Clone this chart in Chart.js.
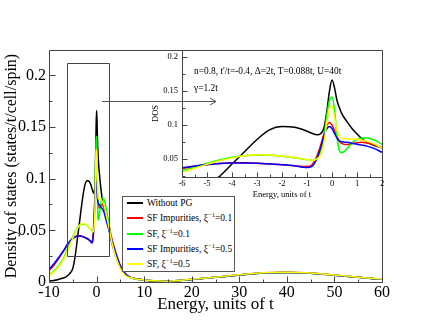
<!DOCTYPE html>
<html>
<head>
<meta charset="utf-8">
<script src="https://cdn.jsdelivr.net/npm/chart.js@4.4.1/dist/chart.umd.min.js"></script>
<style>
  body { margin: 0; background: #fff; font-family: 'Liberation Serif', serif; }
  #wrap { position: relative; width: 430px; height: 332px; overflow: hidden; }
  #main { position: absolute; left: 0; top: 0; }
  #inset { position: absolute; left: 140px; top: 40px; }
  .note { position: absolute; font-size: 9.4px; white-space: nowrap; line-height: 1; color: #000; }
  #legend { position: absolute; left: 122px; top: 196px; width: 111px; height: 74px; border: 1px solid #555; background: #fff; }
  .row { position: absolute; left: 0; height: 12px; font-size: 9.5px; white-space: nowrap; }
  .row i { position: absolute; left: 4px; top: 5px; width: 16px; height: 2px; }
  .row span { position: absolute; left: 24px; top: 0; line-height: 12px; }
  .row sup { font-size: 6.5px; line-height: 0; }
</style>
</head>
<body>
<div id="wrap">
  <canvas id="main" width="430" height="332"></canvas>
  <canvas id="inset" width="250" height="170"></canvas>
  <div class="note" style="left:194px;top:67px">n=0.8, t'/t=-0.4, Δ=2t, T=0.088t, U=40t</div>
  <div class="note" style="left:194px;top:84px">γ=1.2t</div>
  <div id="legend"></div>
</div>
<script>
// energia (unidades de t)
const energy = [-10, -9, -8, -7, -6.5, -6, -5.5, -5, -4.5, -4, -3.5, -3, -2.5, -2, -1.5,
  -1.2, -1, -0.8, -0.6, -0.45, -0.3, -0.2, -0.1, 0, 0.1, 0.2, 0.3, 0.4, 0.6, 0.8, 1, 1.2, 1.4, 1.7, 2,
  2.5, 3, 3.5, 4, 5, 6, 7, 8, 10, 12, 15, 20, 25, 30, 35, 40, 45, 50, 55, 60]

const dosWithoutPG = [0.001, 0.0015, 0.0025, 0.0038, 0.0048, 0.0065, 0.009, 0.013, 0.025, 0.043, 0.061, 0.079, 0.093, 0.098, 0.097,
  0.094, 0.091, 0.088, 0.086, 0.0875, 0.099, 0.122, 0.150, 0.166, 0.155, 0.136, 0.125, 0.116, 0.105, 0.095, 0.087, 0.080, 0.075, 0.070, 0.066,
  0.054, 0.042, 0.033, 0.026, 0.014, 0.007, 0.0045, 0.0032, 0.0018, 0.001, 0.0008, 0.0025, 0.0045, 0.0068, 0.0088, 0.0093, 0.0085, 0.0066, 0.0045, 0.0026]

const dosSFImp01 = [0.011, 0.016, 0.0225, 0.0295, 0.033, 0.0365, 0.0395, 0.042, 0.0438, 0.0447, 0.0447, 0.0441, 0.043, 0.0418, 0.0405,
  0.0395, 0.0392, 0.042, 0.055, 0.071, 0.090, 0.100, 0.104, 0.100, 0.092, 0.083, 0.076, 0.073, 0.0715, 0.0728, 0.0742, 0.0748, 0.0738, 0.071, 0.067,
  0.058, 0.046, 0.037, 0.029, 0.016, 0.0085, 0.0048, 0.0034, 0.002, 0.0012, 0.0009, 0.0026, 0.0046, 0.0069, 0.0089, 0.0094, 0.0086, 0.0067, 0.0046, 0.0027]

const dosSF01 = [0.0068, 0.0105, 0.0155, 0.0225, 0.0275, 0.033, 0.0385, 0.0438, 0.0488, 0.0528, 0.0553, 0.0562, 0.0558, 0.0545, 0.0523,
  0.0505, 0.0493, 0.0482, 0.0515, 0.061, 0.088, 0.116, 0.136, 0.141, 0.122, 0.083, 0.062, 0.0598, 0.0655, 0.0735, 0.079, 0.0812, 0.0812, 0.078, 0.0718,
  0.058, 0.044, 0.034, 0.0255, 0.0135, 0.007, 0.0044, 0.0032, 0.0019, 0.0011, 0.0008, 0.0025, 0.0045, 0.0068, 0.0088, 0.0093, 0.0085, 0.0066, 0.0045, 0.0026]

const dosSFImp05 = [0.0125, 0.0175, 0.0235, 0.030, 0.0338, 0.0375, 0.0402, 0.0422, 0.0437, 0.0445, 0.0446, 0.0441, 0.0432, 0.0421, 0.0405,
  0.0386, 0.0378, 0.0395, 0.051, 0.067, 0.087, 0.095, 0.098, 0.095, 0.088, 0.081, 0.077, 0.0755, 0.0748, 0.0735, 0.072, 0.0707, 0.0692, 0.0655, 0.060,
  0.052, 0.043, 0.035, 0.028, 0.0155, 0.008, 0.0046, 0.0033, 0.002, 0.0012, 0.0009, 0.0025, 0.0045, 0.0068, 0.0088, 0.0093, 0.0085, 0.0066, 0.0045, 0.0026]

const dosSF05 = [0.0062, 0.0098, 0.0145, 0.0212, 0.026, 0.031, 0.0368, 0.0425, 0.0478, 0.052, 0.0552, 0.0566, 0.0563, 0.0548, 0.0527,
  0.0508, 0.0495, 0.0483, 0.0505, 0.057, 0.079, 0.106, 0.125, 0.128, 0.112, 0.092, 0.083, 0.0805, 0.080, 0.0797, 0.0792, 0.0778, 0.0762, 0.0722, 0.066,
  0.055, 0.043, 0.033, 0.025, 0.013, 0.0065, 0.0043, 0.0031, 0.0019, 0.0011, 0.0008, 0.0026, 0.0047, 0.007, 0.009, 0.0095, 0.0087, 0.0068, 0.0047, 0.0028]

const seriesNames = ['Without PG', 'SF Impurities, ξ<sup>−1</sup>=0.1', 'SF, ξ<sup>−1</sup>=0.1', 'SF Impurities, ξ<sup>−1</sup>=0.5', 'SF, ξ<sup>−1</sup>=0.5']
const seriesColors = ['#000000', '#ff0000', '#00ff00', '#0000ff', '#ffff00']
const seriesData = [dosWithoutPG, dosSFImp01, dosSF01, dosSFImp05, dosSF05]

const mainXTicks = [-10, 0, 10, 20, 30, 40, 50, 60]
const mainYTicks = [0, 0.05, 0.1, 0.15, 0.2]
const insetXTicks = [-6, -5, -4, -3, -2, -1, 0, 1, 2]
const insetYTicks = [0.05, 0.1, 0.15, 0.2]

// caixa de zoom e seta (em unidades dos dados)
const zoomBoxX = [-6.15, 2.7]
const zoomBoxY = [0.025, 0.212]
const arrowX = [1.15, 25.1]
const arrowY = 0.175

const SERIF = 'Liberation Serif'
Chart.defaults.font.family = SERIF
Chart.defaults.color = '#000'

const makeDatasets = () => seriesData.map((vals, i) => ({
  data: energy.map((e, k) => ({x: e, y: vals[k]})),
  borderColor: seriesColors[i],
  borderWidth: 1.5,
  pointRadius: 0,
  cubicInterpolationMode: 'monotone',
  order: seriesData.length - i
}))

const onStep = (v, step) => Math.abs(v / step - Math.round(v / step)) < 1e-6

/**
 * moldura + ticks pra dentro (estilo xmgrace)
 */
const frameTicks = {
  id: 'frameTicks',
  afterDraw(chart, args, o) {
    const {ctx, chartArea: a, scales: {x, y}} = chart
    ctx.save()
    ctx.strokeStyle = '#444'
    ctx.lineWidth = 1
    ctx.beginPath()
    const L = Math.round(a.left) + 0.5, R = Math.round(a.right) + 0.5
    const T = Math.round(a.top) + 0.5, B = Math.round(a.bottom) + 0.5
    ctx.rect(L, T, R - L, B - T)
    for (let i = Math.ceil(x.min / o.xMinor - 1e-9); i * o.xMinor <= x.max + 1e-9; i++) {
      const v = i * o.xMinor
      const px = Math.round(x.getPixelForValue(v)) + 0.5
      const len = onStep(v, o.xMajor) ? o.major : o.minor
      ctx.moveTo(px, B); ctx.lineTo(px, B - len)
    }
    for (let i = Math.ceil(y.min / o.yMinor - 1e-9); i * o.yMinor <= y.max + 1e-9; i++) {
      const v = i * o.yMinor
      const py = Math.round(y.getPixelForValue(v)) + 0.5
      const len = onStep(v, o.yMajor) ? o.major : o.minor
      ctx.moveTo(L, py); ctx.lineTo(L + len, py)
    }
    ctx.stroke()
    if (o.extras) {
      ctx.beginPath()
      const bx0 = Math.round(x.getPixelForValue(zoomBoxX[0])) + 0.5
      const bx1 = Math.round(x.getPixelForValue(zoomBoxX[1])) + 0.5
      const by0 = Math.round(y.getPixelForValue(zoomBoxY[1])) + 0.5
      const by1 = Math.round(y.getPixelForValue(zoomBoxY[0])) + 0.5
      ctx.rect(bx0, by0, bx1 - bx0, by1 - by0)
      ctx.stroke()
      ctx.strokeStyle = '#555'
      ctx.beginPath()
      const ax0 = x.getPixelForValue(arrowX[0]), ax1 = x.getPixelForValue(arrowX[1])
      const ay = Math.round(y.getPixelForValue(arrowY)) + 0.5
      ctx.moveTo(ax0, ay); ctx.lineTo(ax1, ay)
      ctx.moveTo(ax1 - 6, ay - 3.5); ctx.lineTo(ax1, ay); ctx.lineTo(ax1 - 6, ay + 3.5)
      ctx.stroke()
    }
    ctx.restore()
  }
}

const desenhar = () => {
  new Chart(document.getElementById('main'), {
    type: 'line',
    data: {datasets: makeDatasets()},
    plugins: [frameTicks],
    options: {
      responsive: false,
      animation: false,
      layout: {padding: {left: 0, top: 50, right: 48, bottom: 0}},
      plugins: {
        legend: {display: false},
        tooltip: {enabled: false},
        frameTicks: {xMinor: 5, xMajor: 10, yMinor: 0.025, yMajor: 0.05, major: 6, minor: 3, extras: true}
      },
      scales: {
        x: {
          type: 'linear', min: -10, max: 60,
          grid: {display: false, drawTicks: false}, border: {display: false},
          afterBuildTicks: s => { s.ticks = mainXTicks.map(v => ({value: v})) },
          afterFit: s => { s.height = 50 },
          ticks: {font: {size: 16}, padding: 1, maxRotation: 0, callback: v => String(v)},
          title: {display: true, text: 'Energy, units of t', font: {size: 17}, padding: {top: 0, bottom: 17}}
        },
        y: {
          min: 0, max: 0.2245,
          grid: {display: false, drawTicks: false}, border: {display: false},
          afterBuildTicks: s => { s.ticks = mainYTicks.map(v => ({value: v})) },
          afterFit: s => { s.width = 49 },
          ticks: {font: {size: 16}, padding: 3, callback: v => String(v)},
          title: {display: true, text: 'Density of states (states/t/cell/spin)', font: {size: 16}, padding: {top: 2, bottom: 0}}
        }
      }
    }
  })

  new Chart(document.getElementById('inset'), {
    type: 'line',
    data: {datasets: makeDatasets()},
    plugins: [frameTicks],
    options: {
      responsive: false,
      animation: false,
      layout: {padding: {left: 0, top: 10, right: 8, bottom: 0}},
      plugins: {
        legend: {display: false},
        tooltip: {enabled: false},
        frameTicks: {xMinor: 0.5, xMajor: 1, yMinor: 0.025, yMajor: 0.05, major: 5, minor: 3, extras: false}
      },
      scales: {
        x: {
          type: 'linear', min: -6, max: 2,
          grid: {display: false, drawTicks: false}, border: {display: false},
          afterBuildTicks: s => { s.ticks = insetXTicks.map(v => ({value: v})) },
          afterFit: s => { s.height = 33 },
          ticks: {font: {size: 8.5}, padding: 2, maxRotation: 0, callback: v => String(v)},
          title: {display: true, text: 'Energy, units of t', font: {size: 8.5}, padding: {top: 0, bottom: 10}}
        },
        y: {
          min: 0.024, max: 0.21,
          grid: {display: false, drawTicks: false}, border: {display: false},
          afterBuildTicks: s => { s.ticks = insetYTicks.map(v => ({value: v})) },
          afterFit: s => { s.width = 42 },
          ticks: {font: {size: 8.5}, padding: 4, callback: v => String(v)},
          title: {display: true, text: 'DOS', font: {size: 8.5}, padding: {top: 11, bottom: 0}}
        }
      }
    }
  })
}

// legenda
const legendBox = document.getElementById('legend')
const rowTops = [0, 15.3, 30.6, 46, 61.3]
seriesNames.forEach((nome, i) => {
  const row = document.createElement('div')
  row.className = 'row'
  row.style.top = rowTops[i] + 'px'
  row.innerHTML = `<i style="background:${seriesColors[i]}"></i><span>${nome}</span>`
  legendBox.appendChild(row)
})

Promise.all([document.fonts.load(`16px "${SERIF}"`), document.fonts.load(`8px "${SERIF}"`)])
  .catch(() => {})
  .then(desenhar)
</script>
</body>
</html>
